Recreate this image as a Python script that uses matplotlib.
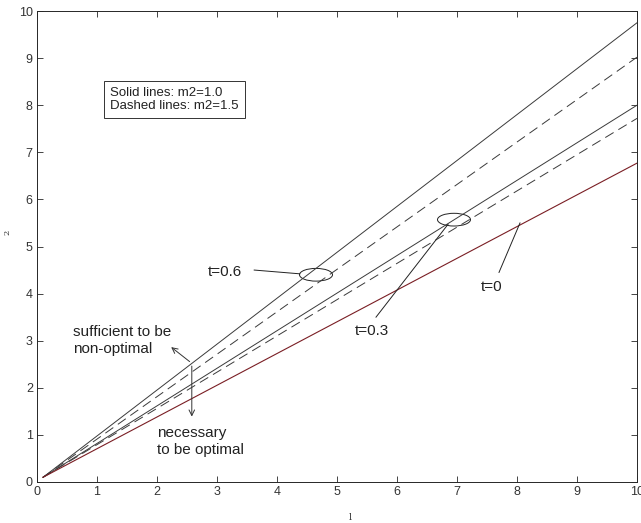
import numpy as np
import matplotlib
matplotlib.use("Agg")
import matplotlib.pyplot as plt
from matplotlib.patches import Ellipse

plt.rcParams['font.family'] = ['Liberation Sans', 'DejaVu Sans']
plt.rcParams['lines.scale_dashes'] = False

# end points of the (straight) curves
x_pts = [0.1, 10.0]
y_solid_06 = [0.1, 9.75]
y_dash_06 = [0.1, 9.02]
y_solid_03 = [0.1, 8.0]
y_dash_03 = [0.1, 7.72]
y_t0 = [0.1, 6.77]

ticks = list(range(0, 11))

fig = plt.figure(figsize=(6.41, 5.23), dpi=100)
ax = fig.add_axes([37/641, 41/523, 600/641, 471/523])

lc = '#3a3a3a'
ax.plot(x_pts, y_solid_06, color=lc, lw=0.7)
ax.plot(x_pts, y_dash_06, color=lc, lw=0.7, dashes=(7, 4))
ax.plot(x_pts, y_solid_03, color=lc, lw=0.7)
ax.plot(x_pts, y_dash_03, color=lc, lw=0.7, dashes=(7, 4))
ax.plot(x_pts, y_t0, color='#7a1e24', lw=0.8)

# ellipses marking the t curves
ax.add_patch(Ellipse((4.65, 4.4), 0.55, 0.27, fill=False, ec='#222222', lw=0.7))
ax.add_patch(Ellipse((6.95, 5.57), 0.55, 0.27, fill=False, ec='#222222', lw=0.7))

fs = 11
tc = '#222222'
ax.text(2.85, 4.45, 't=0.6', fontsize=fs, color=tc, va='center')
ax.plot([3.62, 4.38], [4.5, 4.42], color='#222222', lw=0.7)

ax.text(5.3, 3.2, 't=0.3', fontsize=fs, color=tc, va='center')
ax.plot([5.65, 6.85], [3.5, 5.47], color='#222222', lw=0.7)

ax.text(7.4, 4.15, 't=0', fontsize=fs, color=tc, va='center')
ax.plot([7.7, 8.05], [4.45, 5.5], color='#222222', lw=0.7)

ax.text(0.6, 3.0, 'sufficient to be\nnon-optimal', fontsize=fs, color=tc,
        va='center', linespacing=1.25)
ax.annotate('', xy=(2.2, 2.9), xytext=(2.58, 2.52),
            arrowprops=dict(arrowstyle='->', color='#333333', lw=0.7))
ax.annotate('', xy=(2.58, 1.33), xytext=(2.58, 2.52),
            arrowprops=dict(arrowstyle='->', color='#333333', lw=0.7))
ax.text(2.0, 0.86, 'necessary\nto be optimal', fontsize=fs, color=tc,
        va='center', linespacing=1.2)

ax.text(1.22, 8.12, 'Solid lines: m2=1.0\nDashed lines: m2=1.5', fontsize=9.5,
        color=tc, va='center', linespacing=1.2,
        bbox=dict(boxstyle='square,pad=0.45', fc='white', ec='#333333', lw=0.7))

ax.set_xlim(0, 10)
ax.set_ylim(0, 10)
ax.set_xticks(ticks)
ax.set_yticks(ticks)
ax.tick_params(direction='in', top=True, right=True, length=4, width=0.6,
               labelsize=9, colors='#262626', labelcolor='#333333', pad=3)
for s in ax.spines.values():
    s.set_linewidth(0.7)
    s.set_color('#262626')

fig.text(350/641, 1 - 517/523, 'l', fontsize=7, family='DejaVu Serif',
         ha='center', va='center', color='#333333')
fig.text(7/641, 1 - 232/523, '2', fontsize=6, family='DejaVu Serif',
         ha='center', va='center', rotation=90, color='#333333')

fig.savefig('out.png', dpi=100)
